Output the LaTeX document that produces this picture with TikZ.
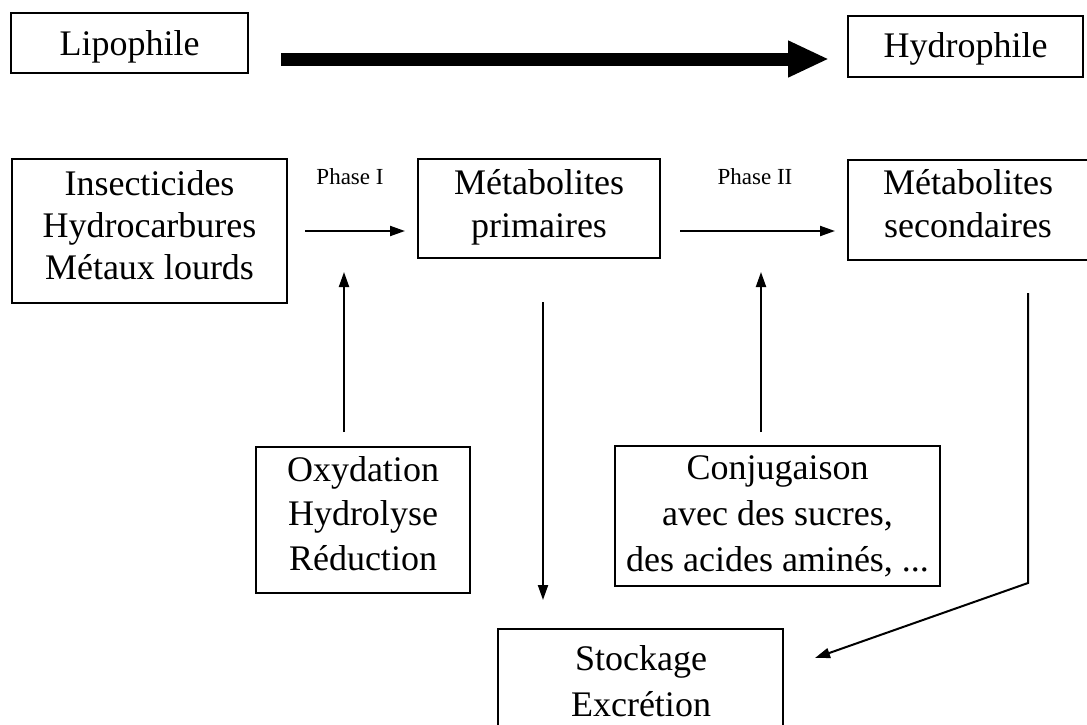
\documentclass[tikz,border=0pt]{standalone}
\usepackage{fontspec}
\setmainfont{Liberation Serif}
\usetikzlibrary{arrows.meta}
\tikzset{
  frame/.style={draw, line width=1.3pt, inner sep=0pt},
  txt/.style={align=center, inner sep=0pt,
              font=\fontsize{36}{#1}\selectfont,
              execute at begin node=\strut, execute at end node=\strut},
  txt/.default=44,
  box/.style={frame, txt=#1},
  box/.default=44,
  lbl/.style={font=\fontsize{23}{27}\selectfont, inner sep=0pt, anchor=base},
  arr/.style={line width=2pt, -{Triangle[length=15pt,width=10pt]}},
  bigarr/.style={line width=13pt, -{Triangle[length=41pt,width=34pt]}}
}
\begin{document}
\begin{tikzpicture}[x=1pt,y=-1pt]
\useasboundingbox (0,0) rectangle (1087,724);
\clip (0,0) rectangle (1087,724);
% top row
\node[box=60, minimum width=237pt, minimum height=60pt] (lip) at (129.5,43) {Lipophile};
\node[box=52.5, minimum width=235pt, minimum height=61pt] (hyd) at (965.5,46.5) {Hydrophile};
\coordinate (bs) at (281,59);
\coordinate (be) at (829,59);
\draw[bigarr] (bs) -- (be);
% second row
\node[box=42, minimum width=275pt, minimum height=144pt] (ins) at (149.5,231) {Insecticides\\Hydrocarbures\\Métaux lourds};
\node[frame, minimum width=242pt, minimum height=99pt] (mp) at (539,208.5) {};
\node[txt=43] (mpt) at (539,210) {Métabolites\\primaires};
\node[frame, minimum width=260pt, minimum height=100pt] (ms) at (978,210) {};
\node[txt=43] (mst) at (968,210) {Métabolites\\secondaires};
\node[lbl] (ph1) at (350,184) {Phase I};
\node[lbl] (ph2) at (755,184) {Phase II};
\coordinate (p1s) at (305,231);
\coordinate (p1e) at (405,231);
\coordinate (p2s) at (680,231);
\coordinate (p2e) at (835,231);
\draw[arr] (p1s) -- (p1e);
\draw[arr] (p2s) -- (p2e);
% lower boxes
\node[box=44.5, minimum width=214pt, minimum height=146pt] (oxy) at (363,520) {Oxydation\\Hydrolyse\\Réduction};
\node[frame, minimum width=325pt, minimum height=140pt] (conj) at (777.5,516) {};
\node[txt=46] (conjt) at (777.5,520) {Conjugaison\\avec des sucres,\\des acides aminés, ...};
\node[frame, minimum width=285pt, minimum height=140pt] (sto) at (640.5,699) {};
\node[txt=46] (stot) at (641,688) {Stockage\\Excrétion};
% vertical arrows
\coordinate (u1s) at (344,432);
\coordinate (u1e) at (344,272);
\coordinate (u2s) at (761,432);
\coordinate (u2e) at (761,272);
\coordinate (d1s) at (543,302);
\coordinate (d1e) at (543,600);
\draw[arr] (u1s) -- (u1e);
\draw[arr] (u2s) -- (u2e);
\draw[arr] (d1s) -- (d1e);
% secondary to storage
\coordinate (s1) at (1028,293);
\coordinate (s2) at (1028,583);
\coordinate (s3) at (815,658);
\draw[arr] (s1) -- (s2) -- (s3);
\end{tikzpicture}
\end{document}
